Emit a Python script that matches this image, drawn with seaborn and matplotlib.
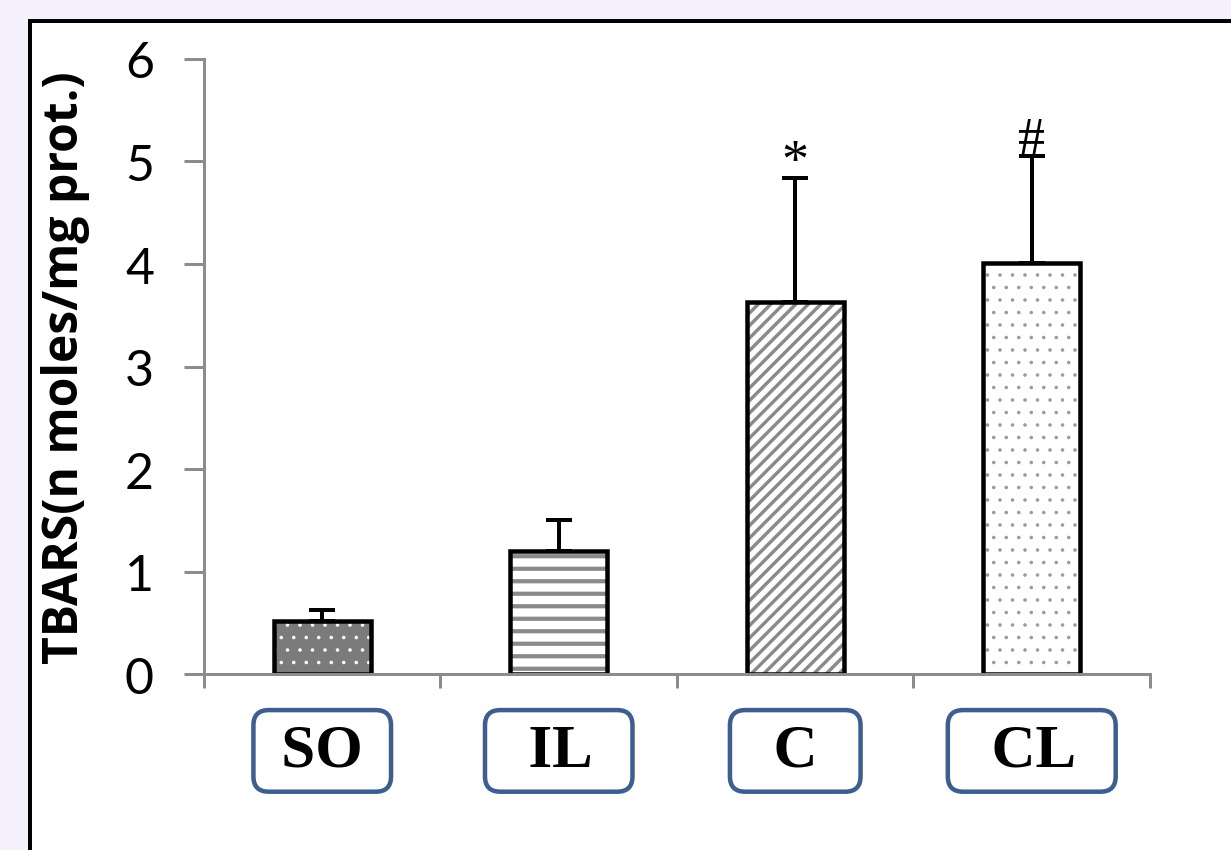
import numpy as np
import pandas as pd
import matplotlib.pyplot as plt
import matplotlib.patches as mpatches
import seaborn as sns

# Data (TBARS, n moles/mg protein)
groups = ['SO', 'IL', 'C', 'CL']
tbars = [0.52, 1.20, 3.63, 4.01]
sem = [0.10, 0.30, 1.21, 1.04]
marks = ['', '', '*', '#']

DPI = 150


def px(n):
    # pixel size -> points at the output dpi
    return n * 72 / DPI


# bar styling
face_colors = ['#7b7b7b', '#ffffff', '#ffffff', '#ffffff']
hatch_colors = ['#ffffff', '#8a8a8a', '#8a8a8a', '#9a9a9a']
hatches = ['..', '--', '////', '..']
hatch_widths = [px(1.0), px(4.2), px(3.4), px(1.0)]
box_labels = [' SO ', '  IL  ', '  C  ', '  CL  ']

df = pd.DataFrame({'group': groups, 'tbars': tbars})

sns.set_style('white')
plt.rcParams['font.family'] = ['Lato', 'DejaVu Sans']
plt.rcParams['text.color'] = 'black'
plt.rcParams['axes.labelcolor'] = 'black'
plt.rcParams['hatch.linewidth'] = px(3.5)

fig = plt.figure(figsize=(1231 / DPI, 851 / DPI), dpi=DPI, facecolor='#f6f2fd')
# white slide panel with black frame
fig.add_artist(mpatches.Rectangle((30 / 1231, -0.1), 1.1, 1.1 - 22 / 851,
                                  transform=fig.transFigure, facecolor='white',
                                  edgecolor='black', lw=px(4), zorder=-1))

ax = fig.add_axes([0.1657, 0.2068, 0.7685, 0.7227])
ax.set_facecolor('none')

sns.barplot(data=df, x='group', y='tbars', width=0.41, color='white',
            saturation=1, linewidth=0, ax=ax)

bars = ax.patches[:len(groups)]
for p, fc, hc, h, hw in zip(bars, face_colors, hatch_colors, hatches, hatch_widths):
    p.set_facecolor(fc)
    p.set_edgecolor(hc)
    p.set_hatch(h)
    p.set_linewidth(0)
    if hasattr(p, 'set_hatch_linewidth'):
        p.set_hatch_linewidth(hw)
    ax.add_patch(mpatches.Rectangle(p.get_xy(), p.get_width(), p.get_height(),
                                    fill=False, edgecolor='black', lw=px(4.5), zorder=3))

# upper error bars only
ax.errorbar(range(len(groups)), tbars, yerr=[np.zeros(len(sem)), sem], fmt='none',
            ecolor='black', elinewidth=px(4), capsize=px(13), capthick=px(4), zorder=4)

for i, (m, v, e) in enumerate(zip(marks, tbars, sem)):
    if m:
        ax.text(i, v + e + 0.02, m, ha='center', va='baseline', fontsize=px(54),
                family='Liberation Serif')

ax.set_xlim(-0.5, len(groups) - 0.5)
ax.set_ylim(0, 6)
ax.set_yticks(range(7))
ax.set_xticks(np.arange(-0.5, len(groups), 1))
ax.set_xticklabels([])
ax.set_xlabel('')
ax.set_ylabel('TBARS(n moles/mg prot.)', fontsize=px(48), fontweight='bold',
              family='Open Sans')
ax.yaxis.set_label_coords(-0.12, 0.5)

sns.despine(ax=ax)
for s in ['left', 'bottom']:
    ax.spines[s].set_color('#8c8c8c')
    ax.spines[s].set_linewidth(px(3))
    ax.spines[s].set_zorder(5)
ax.tick_params(axis='y', length=px(20), width=px(3), color='#8c8c8c', pad=px(30),
               labelsize=px(50), labelcolor='black', left=True)
ax.tick_params(axis='x', length=px(14), width=px(3), color='#8c8c8c', bottom=True)

# category labels in rounded boxes
for i, lab in enumerate(box_labels):
    ax.text(i, -0.125, lab, transform=ax.get_xaxis_transform(), ha='center',
            va='center', fontsize=px(61), fontweight='bold', family='Liberation Serif',
            bbox=dict(boxstyle='round,pad=0.21,rounding_size=0.25', fc='white',
                      ec='#3d5f8f', lw=px(4.5)))

fig.savefig('out.png', dpi=DPI, facecolor=fig.get_facecolor())
